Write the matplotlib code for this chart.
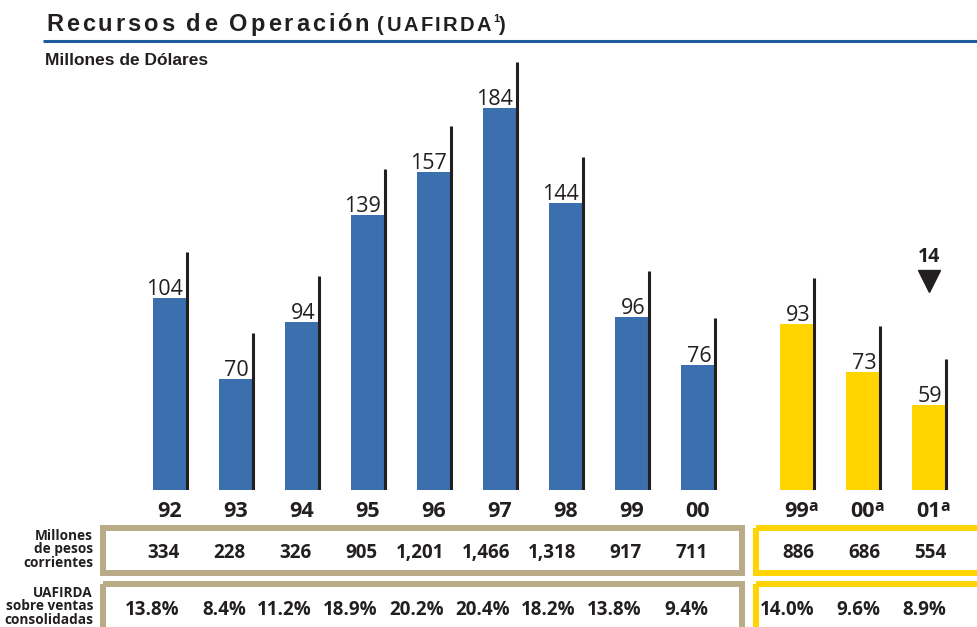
import numpy as np
import matplotlib.pyplot as plt
from matplotlib.patches import Rectangle
from matplotlib.transforms import blended_transform_factory, offset_copy

# data
years = ['92', '93', '94', '95', '96', '97', '98', '99', '00']
usd = [104, 70, 94, 139, 157, 184, 144, 96, 76]
years_a = ['99', '00', '01']
usd_a = [93, 73, 59]
pesos = ['334', '228', '326', '905', '1,201', '1,466', '1,318', '917', '711']
pesos_a = ['886', '686', '554']
margin = ['13.8%', '8.4%', '11.2%', '18.9%', '20.2%', '20.4%', '18.2%', '13.8%', '9.4%']
margin_a = ['14.0%', '9.6%', '8.9%']
marker_label = '14'

blue = '#3b6fae'
yellow = '#ffd400'
tan = '#b9aa88'
ink = '#231f20'
num_font = 'Open Sans'
head_font = 'Liberation Sans'

pos = np.arange(len(usd))
pos_a = np.arange(len(usd_a)) + len(usd) + 0.5

W, H = 978, 627
fig = plt.figure(figsize=(W / 100, H / 100), dpi=100)

# overlay axes in pixel units for decorations
ov = fig.add_axes([0, 0, 1, 1])
ov.set_xlim(0, W)
ov.set_ylim(H, 0)
ov.axis('off')

# main bar axes (value scale does not start at zero)
ax = fig.add_axes([0, 137 / H, 1, 490 / H])
ax.set_xlim(-170 / 66, 808 / 66)
ax.set_ylim(23.16, 229.47)
ax.axis('off')

bw = 0.52
ext = 19.4
ax.bar(pos, usd, width=bw, color=blue, zorder=2)
ax.bar(pos_a, usd_a, width=bw, color=yellow, zorder=2)
ax.vlines(np.concatenate([pos, pos_a]) + bw / 2, 0,
          np.array(usd + usd_a) + ext, color=ink, lw=2.2, zorder=3)

lab_tr = offset_copy(ax.transData, fig=fig, x=-4, y=3, units='dots')
for p, v in zip(np.concatenate([pos, pos_a]), usd + usd_a):
    ax.text(p + bw / 2, v, str(v), transform=lab_tr, ha='right', va='baseline',
            fontsize=15.5, family=num_font, color=ink)

# marker over last bar
px = ax.transData.transform((pos_a[-1], 0))[0]
ov.text(px, 262, marker_label, ha='center', va='baseline', fontsize=14,
        fontweight='bold', family=num_font, color=ink)
ov.plot([px], [281], marker='v', markersize=16, color=ink)

# year labels
btr = blended_transform_factory(ax.transData, ov.transData)
for p, y in zip(pos, years):
    ax.text(p, 517, y, transform=btr, ha='center', va='baseline', fontsize=15.5,
            fontweight='bold', family=num_font, color=ink)
for p, y in zip(pos_a, years_a):
    t = ax.text(p, 517, y, transform=btr, ha='center', va='baseline', fontsize=15.5,
                fontweight='bold', family=num_font, color=ink)
    ax.annotate('a', xy=(1, 0), xycoords=t, xytext=(-0.8, 5.2), textcoords='offset points',
                ha='left', va='bottom', fontsize=11.5, fontweight='bold',
                family=num_font, color=ink)

# table frames
fw = 4.3
for (x0, x1, c) in [(103, 742, tan), (756, 990, yellow)]:
    ov.add_patch(Rectangle((x0, 528), x1 - x0, 45, fill=False, ec=c, lw=fw))
    ov.add_patch(Rectangle((x0, 584), x1 - x0, 45, fill=False, ec=c, lw=fw))

# table values
fs_tab = 13.5
for p, a, b in zip(pos, pesos, margin):
    ax.text(p + 0.15, 558, a, transform=btr, ha='right', va='baseline', fontsize=fs_tab,
            fontweight='bold', family=num_font, color=ink)
    ax.text(p + 0.15, 615, b, transform=btr, ha='right', va='baseline', fontsize=fs_tab,
            fontweight='bold', family=num_font, color=ink)
for p, a, b in zip(pos_a, pesos_a, margin_a):
    ax.text(p + 0.26, 558, a, transform=btr, ha='right', va='baseline', fontsize=fs_tab,
            fontweight='bold', family=num_font, color=ink)
    ax.text(p + 0.26, 615, b, transform=btr, ha='right', va='baseline', fontsize=fs_tab,
            fontweight='bold', family=num_font, color=ink)

# row labels
for y, s in zip([540, 553.5, 567], ['Millones', 'de pesos', 'corrientes']):
    ov.text(93, y, s, ha='right', va='baseline', fontsize=9.8, fontweight='bold',
            family=num_font, color=ink)
for y, s in zip([597, 610.5, 624], ['UAFIRDA', 'sobre ventas', 'consolidadas']):
    ov.text(93, y, s, ha='right', va='baseline', fontsize=9.8, fontweight='bold',
            family=num_font, color=ink)

# title with letter spacing
renderer = fig.canvas.get_renderer()


def spaced(x, y, s, size, gap):
    for ch in s:
        t = ov.text(x, y, ch, ha='left', va='baseline', fontsize=size,
                    fontweight='bold', family=head_font, color=ink)
        if ch == ' ':
            w = size * 0.28 * 100 / 72
        else:
            w = t.get_window_extent(renderer).width
        x += w + gap
    return x


xe = spaced(46, 31, 'Recursos de Operación', 17, 2.9)
xe = spaced(xe + 5, 31, '(UAFIRDA', 14.5, 2.4)
ov.text(xe - 1, 22, '1', ha='left', va='baseline', fontsize=8, fontweight='bold',
        family=head_font, color=ink)
spaced(xe + 5, 31, ')', 14.5, 0)

ov.plot([43, W], [40.5, 40.5], color='#1f5c9e', lw=2.2, solid_capstyle='butt')
ov.text(45, 65, 'Millones de Dólares', ha='left', va='baseline', fontsize=12.5,
        fontweight='bold', family=head_font, color=ink)

fig.savefig('out.png', dpi=100)
